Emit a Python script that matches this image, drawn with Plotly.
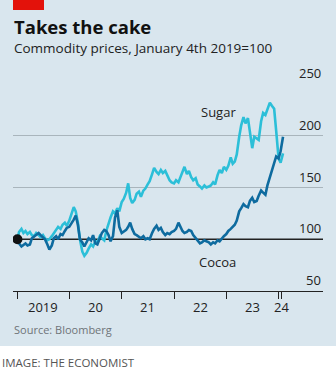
import plotly.graph_objects as go

# ---------------- data ----------------
years = [2019, 2020, 2021, 2022, 2023]
dates = ["2019-01-04", "2019-01-15"]
for y in years:
    for m in range(1, 13):
        if y == 2019 and m == 1:
            continue
        dates.append(f"{y}-{m:02d}-01")
        dates.append(f"{y}-{m:02d}-15")
dates += ["2024-01-01", "2024-01-15", "2024-02-01"]

sugar = [
    # 2019
    100, 107, 110, 106, 108, 105, 107, 104, 103, 106, 104, 102,
    104, 101, 99, 100, 103, 106, 109, 112, 110, 114, 116, 113,
    # 2020
    118, 124, 131, 127, 116, 100, 88, 84, 87, 91, 95, 93,
    98, 97, 103, 101, 99, 108, 116, 121, 127, 125, 130, 127,
    # 2021
    136, 139, 145, 154, 140, 135, 138, 144, 146, 141, 147, 149,
    153, 156, 163, 169, 165, 163, 167, 164, 166, 161, 157, 155,
    # 2022
    154, 157, 155, 160, 166, 170, 163, 166, 160, 157, 159, 153,
    151, 149, 152, 150, 151, 152, 155, 153, 162, 167, 164, 170,
    # 2023
    167, 171, 179, 173, 175, 182, 199, 210, 218, 212, 217, 205,
    188, 199, 197, 196, 214, 222, 220, 225, 232, 229, 226, 205,
    # 2024
    178, 174, 183,
]
cocoa = [
    # 2019
    100, 96, 93, 95, 96, 94, 95, 101, 103, 104, 106, 104,
    102, 100, 95, 90, 94, 101, 103, 100, 105, 104, 108, 111,
    # 2020
    112, 115, 119, 123, 114, 100, 97, 93, 97, 101, 99, 104,
    96, 95, 101, 106, 109, 108, 104, 98, 103, 121, 128, 112,
    # 2021
    106, 107, 109, 112, 116, 110, 105, 104, 102, 101, 103, 100,
    101, 100, 106, 110, 113, 109, 111, 107, 104, 106, 105, 107,
    # 2022
    108, 110, 116, 112, 108, 106, 107, 109, 108, 104, 101, 98,
    96, 97, 99, 98, 97, 95, 97, 96, 99, 98, 101, 103,
    # 2023
    105, 108, 110, 112, 114, 118, 127, 130, 134, 132, 131, 137,
    140, 136, 137, 142, 147, 145, 143, 152, 160, 166, 172, 180,
    # 2024
    178, 185, 199,
]

year_ticks = ["2019-01-01", "2020-01-01", "2021-01-01", "2022-01-01",
              "2023-01-01", "2024-01-01", "2024-01-24"]
year_labels = ["2019", "20", "21", "22", "23", "24"]
year_label_pos = ["2019-07-02", "2020-07-02", "2021-07-02", "2022-07-02",
                  "2023-07-02", "2024-01-20"]
y_grid = [150, 200, 250]
y_labels = [50, 100, 150, 200, 250]

# ---------------- style ----------------
W, H = 336, 372
L, R, T, B = 13, 323, 84, 291
BG = "#d9e6ee"
SUGAR_C = "#2cbfd8"
COCOA_C = "#0e6b9f"
DARK = "#222222"
FONT = "Open Sans"

def px_x(px):
    return (px - L) / (R - L)

def px_y(py):
    return (B - py) / (B - T)

fig = go.Figure()
fig.add_trace(go.Scatter(x=dates, y=sugar, mode="lines",
                         line=dict(color=SUGAR_C, width=2.6), hoverinfo="skip"))
fig.add_trace(go.Scatter(x=dates, y=cocoa, mode="lines",
                         line=dict(color=COCOA_C, width=2.6), hoverinfo="skip"))
fig.add_trace(go.Scatter(x=[dates[0]], y=[cocoa[0]], mode="markers",
                         marker=dict(color="#111111", size=10), hoverinfo="skip"))

shapes = [
    # white band at bottom
    dict(type="rect", xref="paper", yref="paper", x0=px_x(-5), x1=px_x(W + 5),
         y0=px_y(H + 5), y1=px_y(346), fillcolor="white", line=dict(width=0), layer="below"),
    # red tag
    dict(type="rect", xref="paper", yref="paper", x0=px_x(13), x1=px_x(44),
         y0=px_y(10), y1=px_y(-2), fillcolor="#e3120b", line=dict(width=0)),
    # 100 baseline
    dict(type="line", xref="paper", yref="y", x0=0, x1=1, y0=100, y1=100,
         line=dict(color=DARK, width=1.3), layer="below"),
]

annotations = [
    dict(text="<b>Takes the cake</b>", xref="paper", yref="paper", x=px_x(12), y=px_y(26),
         xanchor="left", yanchor="middle", showarrow=False,
         font=dict(family=FONT, size=18.5, color="#111111")),
    dict(text="Commodity prices, January 4th 2019=100", xref="paper", yref="paper",
         x=px_x(12), y=px_y(48), xanchor="left", yanchor="middle", showarrow=False,
         font=dict(family=FONT, size=13.5, color="#222222")),
    dict(text="Sugar", xref="paper", yref="paper", x=px_x(218), y=px_y(112),
         xanchor="center", yanchor="middle", showarrow=False,
         font=dict(family=FONT, size=13, color="#222222")),
    dict(text="Cocoa", xref="paper", yref="paper", x=px_x(217), y=px_y(262),
         xanchor="center", yanchor="middle", showarrow=False,
         font=dict(family=FONT, size=13, color="#222222")),
    dict(text="Source: Bloomberg", xref="paper", yref="paper", x=px_x(12), y=px_y(329),
         xanchor="left", yanchor="middle", showarrow=False,
         font=dict(family=FONT, size=11, color="#6f7478")),
    dict(text="IMAGE: THE ECONOMIST", xref="paper", yref="paper", x=px_x(0), y=px_y(362),
         xanchor="left", yanchor="middle", showarrow=False,
         font=dict(family=FONT, size=11.5, color="#555555")),
]
for v in y_labels:
    annotations.append(dict(text=str(v), xref="paper", yref="y", x=1.0, y=v,
                            xanchor="right", yanchor="bottom", yshift=0, showarrow=False,
                            font=dict(family=FONT, size=13, color="#222222")))
for lab, pos in zip(year_labels, year_label_pos):
    annotations.append(dict(text=lab, xref="x", yref="paper", x=pos, y=px_y(307),
                            xanchor="center", yanchor="middle", showarrow=False,
                            font=dict(family=FONT, size=13, color="#222222")))

fig.update_layout(
    width=W, height=H,
    margin=dict(l=L, r=W - R, t=T, b=H - B, pad=0),
    paper_bgcolor=BG, plot_bgcolor=BG,
    showlegend=False,
    xaxis=dict(range=["2018-12-04", "2024-11-06"], type="date",
               tickvals=year_ticks, ticks="outside", ticklen=7, tickwidth=1.3,
               tickcolor=DARK, showticklabels=False, showgrid=False,
               showline=True, linecolor=DARK, linewidth=1.3, zeroline=False),
    yaxis=dict(range=[50, 250], tickvals=y_grid, showticklabels=False,
               showgrid=True, gridcolor="#a9b5bc", gridwidth=1, zeroline=False,
               showline=False, ticks=""),
    shapes=shapes, annotations=annotations,
)

fig.write_html("out.html")
